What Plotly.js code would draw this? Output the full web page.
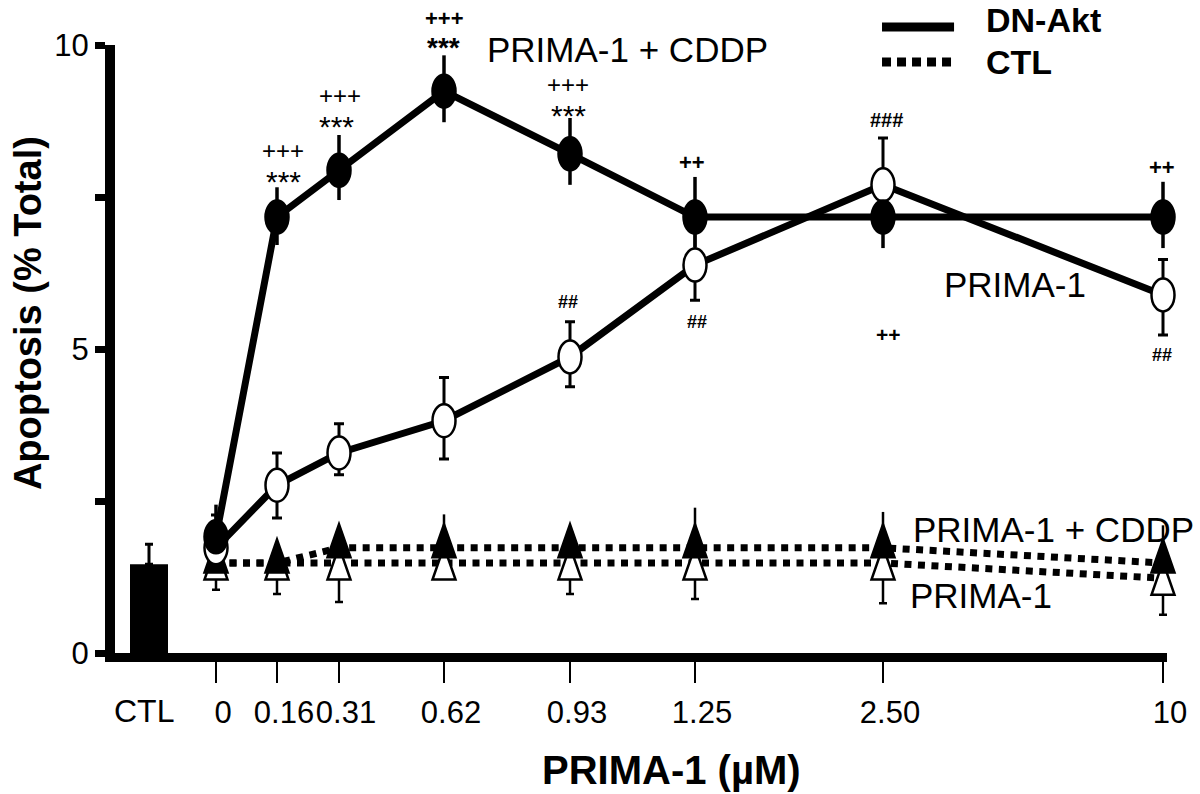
<!DOCTYPE html>
<html><head><meta charset="utf-8">
<script src="https://cdn.plot.ly/plotly-3.0.1.min.js"></script>
<style>html,body{margin:0;padding:0;background:#fff}#chart{width:1200px;height:794px}</style>
</head><body><div id="chart"></div>
<script>
// ---------------- data ----------------
const doseLabels = ['0', '0.16', '0.31', '0.62', '0.93', '1.25', '2.50', '10'];
const ctlLabel = 'CTL';
const ctlBaseline = [1.46];
const ctlBaselineErr = [0.33];

const dnAktPrimaCddp        = [1.91, 7.17, 7.94, 9.24, 8.21, 7.17, 7.17, 7.17];
const dnAktPrimaCddpErrUp   = [0.53, 0.49, 0.58, 0.59, 0.59, 0.66, 0.50, 0.58];
const dnAktPrimaCddpErrDown = [0.30, 0.46, 0.49, 0.51, 0.51, 0.50, 0.51, 0.51];

const dnAktPrima        = [1.73, 2.76, 3.29, 3.82, 4.87, 6.38, 7.70, 5.89];
const dnAktPrimaErrUp   = [0.54, 0.53, 0.48, 0.71, 0.58, 0.60, 0.77, 0.58];
const dnAktPrimaErrDown = [0.30, 0.54, 0.36, 0.63, 0.49, 0.58, 0.50, 0.66];

const ctlPrimaCddp      = [1.48, 1.48, 1.73, 1.73, 1.73, 1.73, 1.73, 1.48];
const ctlPrimaCddpErrUp = [0.30, 0.30, 0.30, 0.55, 0.30, 0.66, 0.59, 0.62];

const ctlPrima        = [1.48, 1.48, 1.48, 1.48, 1.48, 1.48, 1.48, 1.23];
const ctlPrimaErrDown = [0.44, 0.51, 0.64, 0.20, 0.51, 0.59, 0.66, 0.60];

// significance labels: [dose index, text]
const sigPlus = [[1, '+++'], [2, '+++'], [3, '+++'], [4, '+++'], [5, '++'], [6, '###'], [7, '++']];
const sigStar = [[1, '***'], [2, '***'], [3, '***'], [4, '***']];
const sigLow  = [[4, '##'], [5, '##'], [6, '++'], [7, '##']];

// ---------------- layout helpers (axis slots, not data) ----------------
const X_SPAN = 1080;                                   // x axis range units (hand-spaced dose axis)
const doseSlots = [101, 162, 224, 329, 455, 580, 768, 1048];
const ctlSlot = 34;
const px = u => u / X_SPAN;                            // x units -> paper
const py = v => v / 10;                                // y value -> paper
const pyPix = p => (653 - p) / 608;                    // pixel row -> paper

const SANS = 'Liberation Sans, Arial, sans-serif';
const K = '#000';

const zeros = doseLabels.map(() => 0);

const traces = [
  { type: 'bar', x: [ctlSlot], y: ctlBaseline, width: 38, marker: {color: K, line: {width: 0}},
    error_y: {type: 'data', symmetric: false, array: ctlBaselineErr, arrayminus: [0], width: 4, thickness: 3, color: K},
    hoverinfo: 'skip', showlegend: false },
  { type: 'scatter', mode: 'lines', name: 'CTL PRIMA-1', x: doseSlots, y: ctlPrima, cliponaxis: false,
    line: {color: K, width: 7, dash: '7px,6.5px'},
    error_y: {type: 'data', symmetric: false, array: zeros, arrayminus: ctlPrimaErrDown, width: 4, thickness: 2.5, color: K},
    showlegend: false },
  { type: 'scatter', mode: 'lines', name: 'CTL PRIMA-1 + CDDP', x: doseSlots, y: ctlPrimaCddp, cliponaxis: false,
    line: {color: K, width: 7, dash: '7px,6.5px'},
    error_y: {type: 'data', symmetric: false, array: ctlPrimaCddpErrUp, arrayminus: zeros, width: 0, thickness: 2.5, color: K},
    showlegend: false },
  { type: 'scatter', mode: 'lines', name: 'DN-Akt PRIMA-1', x: doseSlots, y: dnAktPrima, cliponaxis: false,
    line: {color: K, width: 7},
    error_y: {type: 'data', symmetric: false, array: dnAktPrimaErrUp, arrayminus: dnAktPrimaErrDown, width: 5, thickness: 3, color: K},
    showlegend: false },
  { type: 'scatter', mode: 'lines', name: 'DN-Akt PRIMA-1 + CDDP', x: doseSlots, y: dnAktPrimaCddp, cliponaxis: false,
    line: {color: K, width: 7},
    error_y: {type: 'data', symmetric: false, array: dnAktPrimaCddpErrUp, arrayminus: dnAktPrimaCddpErrDown, width: 0, thickness: 3.5, color: K},
    showlegend: false }
];

// ---------------- marker glyphs (tall ellipses / narrow triangles) anchored on data ----------------
function markerShape(kind, x, y, filled) {
  const base = {xref: 'x', yref: 'y', xsizemode: 'pixel', ysizemode: 'pixel', xanchor: x, yanchor: y,
    fillcolor: filled ? K : '#fff', line: {color: K, width: 2.5}, layer: 'above'};
  if (kind === 'ellipse') return Object.assign(base, {type: 'circle', x0: -11.5, x1: 11.5, y0: -16.5, y1: 16.5});
  if (filled) return Object.assign(base, {type: 'path', path: 'M-11.5,-9.5L11.5,-9.5L0,23.5Z'});
  return Object.assign(base, {type: 'path', path: 'M-11.5,-16.5L11.5,-16.5L0,16.5Z'});
}
const shapes = [];
doseSlots.forEach((s, i) => shapes.push(markerShape('tri', s, ctlPrima[i], false)));
doseSlots.forEach((s, i) => shapes.push(markerShape('tri', s, ctlPrimaCddp[i], true)));
doseSlots.forEach((s, i) => shapes.push(markerShape('ellipse', s, dnAktPrima[i], false)));
doseSlots.forEach((s, i) => shapes.push(markerShape('ellipse', s, dnAktPrimaCddp[i], true)));

// x axis base line (ends at the last dose)
shapes.push({type: 'line', xref: 'paper', yref: 'paper', x0: -10 / X_SPAN, x1: (doseSlots[7] + 4) / X_SPAN,
  y0: -4.5 / 608, y1: -4.5 / 608, line: {color: K, width: 9}, layer: 'above'});
// legend swatches
shapes.push({type: 'line', xref: 'paper', yref: 'paper', x0: 0.7102, x1: 0.7769, y0: pyPix(27), y1: pyPix(27),
  line: {color: K, width: 9}});
shapes.push({type: 'line', xref: 'paper', yref: 'paper', x0: 0.7102, x1: 0.7769, y0: pyPix(62), y1: pyPix(62),
  line: {color: K, width: 9, dash: '9px,6px'}});

// ---------------- text ----------------
const ann = [];
function txt(text, x, y, size, opts) {
  ann.push(Object.assign({text: text, xref: 'paper', yref: 'paper', x: x, y: y, showarrow: false, borderpad: 0,
    xanchor: 'center', yanchor: 'middle', font: {family: SANS, size: size, color: K}}, opts || {}));
}
// significance marks: [dx px, centre row px, font size, bold]
const plusPos = {1: [6, 150.3, 24, false], 2: [1, 95.8, 24, false], 3: [0, 18.9, 22, true], 4: [-2, 84.8, 24, false],
                 5: [-3, 162, 22, true], 6: [3, 120, 20, true], 7: [-1, 167, 22, true]};
sigPlus.forEach(([i, t]) => {
  const p = plusPos[i];
  txt(t, px(doseSlots[i] + p[0]), pyPix(p[1]), p[2], {font: {family: SANS, size: p[2], color: K, weight: p[3] ? 'bold' : 'normal'}});
});
const starPos = {1: [6, 181.4, 30, false], 2: [-3, 126.9, 30, false], 3: [-1, 47.4, 28, true], 4: [-2, 115.9, 30, false]};
sigStar.forEach(([i, t]) => {
  const p = starPos[i];
  txt(t, px(doseSlots[i] + p[0]), pyPix(p[1]), p[2], {font: {family: SANS, size: p[2], color: K, weight: p[3] ? 'bold' : 'normal'}});
});
const lowPos = {4: [-2, 302, 18], 5: [2, 322, 18], 6: [5, 334, 21], 7: [-1, 355, 18]};
sigLow.forEach(([i, t]) => {
  const p = lowPos[i];
  txt(t, px(doseSlots[i] + p[0]), pyPix(p[1]), p[2], {font: {family: SANS, size: p[2], color: K, weight: 'bold'}});
});
// series labels
txt('PRIMA-1 + CDDP', 0.3435, 0.9918, 35, {xanchor: 'left'});
txt('PRIMA-1', 0.7667, 0.6069, 35, {xanchor: 'left'});
txt('PRIMA-1 + CDDP', 0.738, 0.2039, 35, {xanchor: 'left'});
txt('PRIMA-1', 0.7352, 0.0938, 35, {xanchor: 'left'});
// legend text
txt('DN-Akt', 0.8056, pyPix(20), 34, {xanchor: 'left', font: {family: SANS, size: 34, color: K, weight: 'bold'}});
txt('CTL', 0.8056, pyPix(62), 34, {xanchor: 'left', font: {family: SANS, size: 34, color: K, weight: 'bold'}});
// axis titles and CTL category label
txt('Apoptosis (% Total)', -0.0806, 0.559, 38, {textangle: -90, font: {family: SANS, size: 38, color: K, weight: 'bold'}});
txt('PRIMA-1 (µM)', 0.5157, pyPix(770), 40, {font: {family: SANS, size: 40, color: K, weight: 'bold'}});
txt(ctlLabel, px(ctlSlot - 5), pyPix(711), 32, {font: {family: SANS, size: 32, color: K}});

const layout = {
  width: 1200, height: 794,
  margin: {l: 115, r: 5, t: 45, b: 141, pad: 0},
  paper_bgcolor: '#fff', plot_bgcolor: '#fff',
  showlegend: false,
  xaxis: {range: [0, X_SPAN], showline: false, zeroline: false, showgrid: false,
    tickmode: 'array', tickvals: doseSlots, ticktext: doseLabels, tickangle: 0,
    ticks: 'outside', ticklen: 29, tickwidth: 2, tickcolor: K,
    ticklabelshift: 7, ticklabelstandoff: 3,
    tickfont: {family: SANS, size: 31, color: K}},
  yaxis: {range: [0, 10], showline: true, linewidth: 10, linecolor: K, zeroline: false, showgrid: false,
    tickmode: 'array', tickvals: [0, 2.5, 5, 7.5, 10], ticktext: ['0', '', '5', '', '10'],
    ticks: 'outside', ticklen: 10, tickwidth: 7, tickcolor: K,
    tickfont: {family: SANS, size: 31, color: K}},
  shapes: shapes,
  annotations: ann
};

Plotly.newPlot('chart', traces, layout, {displayModeBar: false, staticPlot: true});
</script>
</body></html>
